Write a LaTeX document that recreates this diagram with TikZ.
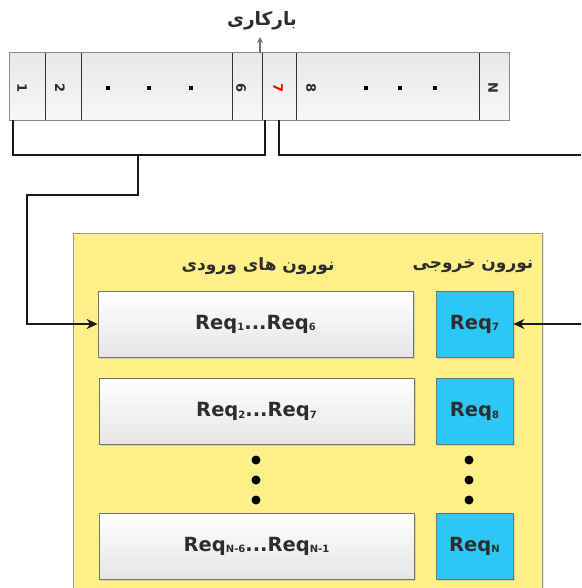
\documentclass[tikz,border=0pt]{standalone}
\usepackage{fontspec}
\setmainfont{DejaVu Sans}
\newfontfamily\fa[Script=Arabic]{DejaVu Sans}
\TeXXeTstate=1
\usetikzlibrary{arrows.meta,shadows}
\definecolor{ybg}{RGB}{253,240,137}
\definecolor{bluebox}{RGB}{44,199,245}
\definecolor{txt}{RGB}{45,45,45}
\newcommand\rsub[1]{\raisebox{-1.5pt}{\fontsize{10}{10}\selectfont #1}}
\tikzset{
  cellbox/.style={inner sep=0pt, top color=black!9, bottom color=black!3, draw=none},
  divider/.style={draw=black!80, line width=0.9pt},
  numlab/.style={inner sep=0pt, text=txt, font=\fontsize{13}{13}\selectfont\bfseries, rotate=-90},
  sqdot/.style={fill=black, minimum size=3.2pt, inner sep=0pt},
  inbox/.style={draw=black!55, line width=0.8pt, top color=white, bottom color=black!10,
     minimum width=315pt, minimum height=66pt, inner sep=0pt, text=txt,
     font=\fontsize{19.5}{19.5}\selectfont\bfseries,
     drop shadow={shadow xshift=1.5pt, shadow yshift=-1.5pt, opacity=0.25}},
  outbox/.style={draw=black!55, line width=0.8pt, fill=bluebox,
     minimum width=77pt, minimum height=66pt, inner sep=0pt, text=txt,
     font=\fontsize{19.5}{19.5}\selectfont\bfseries,
     drop shadow={shadow xshift=1.5pt, shadow yshift=-1.5pt, opacity=0.25}},
  conn/.style={draw=black!90, line width=2.4pt},
  arr/.style={conn, -{Stealth[length=11pt, width=10pt]}},
  fahead/.style={inner sep=0pt, text=txt, font=\fa\bfseries\fontsize{17}{17}\selectfont},
  bigdot/.style={circle, fill=black, minimum size=9pt, inner sep=0pt}
}
\begin{document}
\begin{tikzpicture}[x=1pt,y=-1pt]
\useasboundingbox (0,0) rectangle (581,588);
\clip (0,0) rectangle (581,588);
\fill[white] (0,0) rectangle (581,588);

% yellow container
\node[draw=black!40, line width=0.8pt, fill=ybg, minimum width=469pt, minimum height=380pt, inner sep=0pt,
      drop shadow={shadow xshift=1.5pt, shadow yshift=-1.5pt, opacity=0.2}] (cont) at (307.5,423) {};

% strip cells
\node[cellbox, minimum width=35pt, minimum height=67pt] (c1) at (27.5,86.5) {};
\node[cellbox, minimum width=36pt, minimum height=67pt] (c2) at (63,86.5) {};
\node[cellbox, minimum width=151pt, minimum height=67pt] (cd1) at (156.5,86.5) {};
\node[cellbox, minimum width=30pt, minimum height=67pt] (c6) at (247,86.5) {};
\node[cellbox, minimum width=34pt, minimum height=67pt] (c7) at (279,86.5) {};
\node[cellbox, minimum width=183pt, minimum height=67pt] (cd2) at (387.5,86.5) {};
\node[cellbox, minimum width=30pt, minimum height=67pt] (cN) at (494,86.5) {};
\foreach \a in {c1,c2,cd1,c6,c7,cd2}
  \draw[divider] (\a.north east) -- (\a.south east);
\draw[draw=black!45, line width=0.9pt] (c1.north west) rectangle (cN.south east);

% strip labels
\node[numlab] (l1) at (22,88) {1};
\node[numlab] (l2) at (60,88) {2};
\node[numlab] (l6) at (241,88) {6};
\node[numlab, text=red] (l7) at (278,88) {7};
\node[numlab] (l8) at (311,88) {8};
\node[numlab] (lN) at (493,88) {N};
\foreach \x in {108,149,191,366,400,435}
  \node[sqdot] at (\x,88) {};

% top label and arrow
\node[fahead, font=\fa\bfseries\fontsize{18.5}{18.5}\selectfont] (bk) at (262,21) {\beginR بارکاری\endR};
\coordinate (ctop) at (260,53);
\draw[draw=black!55, line width=1.2pt, -{Stealth[length=6pt, width=6pt]}] (ctop) -- (260,37);

% headings
\node[fahead] (hin) at (258,266) {\beginR نورون های ورودی\endR};
\node[fahead] (hout) at (473,266) {\beginR نورون خروجی\endR};

% boxes
\node[inbox] (in1) at (255.5,324) {Req\rsub{1}...Req\rsub{6}};
\node[inbox] (in2) at (256.5,411.5) {Req\rsub{2}...Req\rsub{7}};
\node[inbox] (in3) at (256.5,546) {Req\rsub{N-6}...Req\rsub{N-1}};
\node[outbox] (out1) at (474.5,324) {Req\rsub{7}};
\node[outbox] (out2) at (474.5,411.5) {Req\rsub{8}};
\node[outbox] (out3) at (474.5,546) {Req\rsub{N}};

% vertical dots
\foreach \y in {460,480,500} {
  \node[bigdot] at (256,\y) {};
  \node[bigdot] at (469,\y) {};
}

% connectors
\coordinate (bmid) at (138,155);
\coordinate (bturn) at (27,195);
\draw[conn] ([xshift=3pt]c1.south west) -- ++(0,35) -| ([xshift=3pt]c7.south west);
\draw[arr] (bmid) -- (bmid |- bturn) -- (bturn) |- (in1.west);
\coordinate (rend) at (581,155);
\draw[conn] (c7.south) -- (c7.south |- rend) -- (rend);
\coordinate (rin) at (581,324);
\draw[arr] (rin) -- (out1.east);
\end{tikzpicture}
\end{document}
